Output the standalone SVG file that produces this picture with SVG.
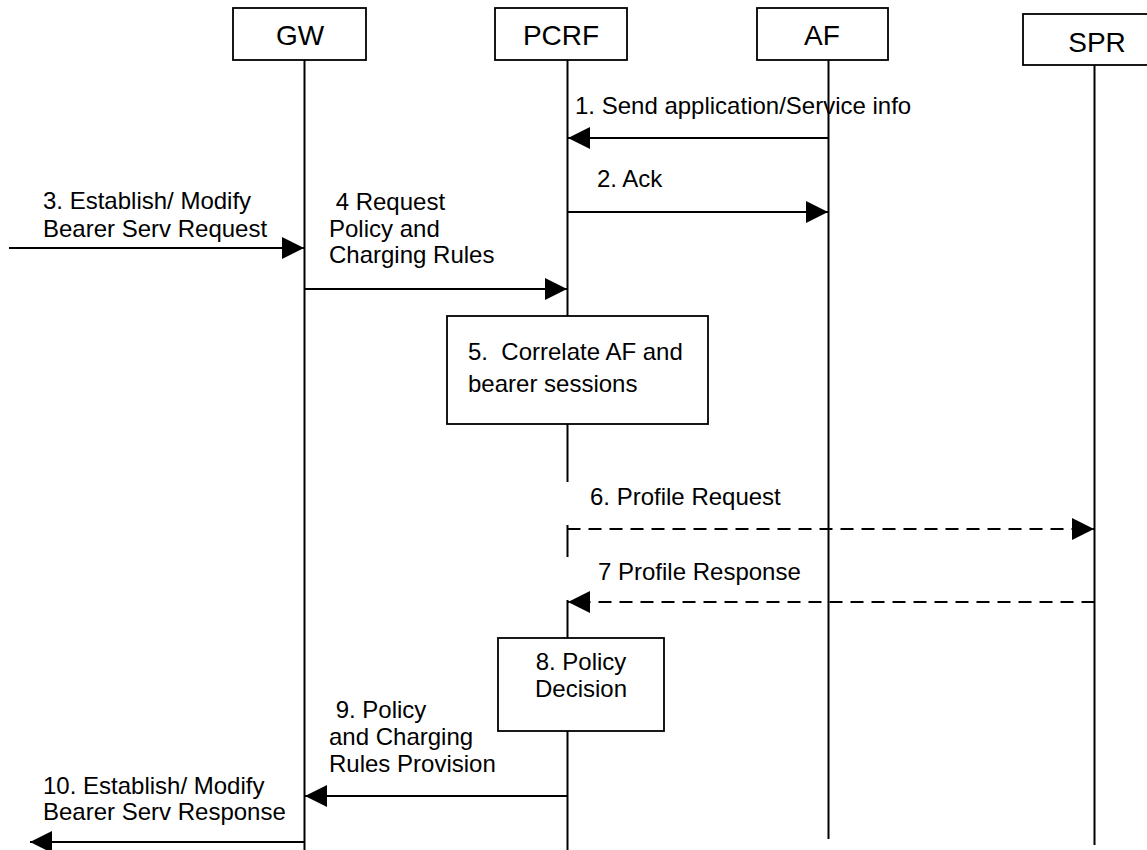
<svg xmlns="http://www.w3.org/2000/svg" width="1147" height="850" viewBox="0 0 1147 850">
  <style>
    .box { fill: #ffffff; stroke: #000000; stroke-width: 1.8; }
    .life { stroke: #000000; stroke-width: 2; fill: none; }
    .msg { stroke: #000000; stroke-width: 2.2; fill: none; marker-end: url(#head); }
    .dash { stroke-dasharray: 13 8; }
    .head { font-family: "Liberation Sans", Arial, sans-serif; font-size: 28px; fill: #000000; text-anchor: middle; }
    .lbl { font-family: "Liberation Sans", Arial, sans-serif; font-size: 24px; fill: #000000; }
    .mid { text-anchor: middle; }
  </style>
  <defs>
    <marker id="head" markerUnits="userSpaceOnUse" markerWidth="22" markerHeight="22" refX="22" refY="11" orient="auto" viewBox="0 0 22 22">
      <path d="M0,0 L22,11 L0,22 Z" fill="#000000"/>
    </marker>
  </defs>
  <rect x="0" y="0" width="1147" height="850" fill="#ffffff"/>

  <!-- lifelines -->
  <g id="lifelines">
    <line class="life" x1="304.5" y1="60" x2="304.5" y2="850"/>
    <line class="life" x1="567.5" y1="60" x2="567.5" y2="316"/>
    <line class="life" x1="567.5" y1="424" x2="567.5" y2="482"/>
    <line class="life" x1="567.5" y1="525" x2="567.5" y2="557"/>
    <line class="life" x1="567.5" y1="600" x2="567.5" y2="638"/>
    <line class="life" x1="567.5" y1="731" x2="567.5" y2="850"/>
    <line class="life" x1="828.5" y1="60" x2="828.5" y2="839"/>
    <line class="life" x1="1094.5" y1="65" x2="1094.5" y2="845"/>
  </g>

  <!-- participants -->
  <g id="gw">
    <rect class="box" x="233" y="8" width="133" height="52"/>
    <text class="head" x="300" y="45">GW</text>
  </g>
  <g id="pcrf">
    <rect class="box" x="495" y="8" width="132" height="52"/>
    <text class="head" x="561" y="45">PCRF</text>
  </g>
  <g id="af">
    <rect class="box" x="757" y="8" width="131" height="52"/>
    <text class="head" x="822" y="45">AF</text>
  </g>
  <g id="spr">
    <rect class="box" x="1023" y="14" width="144" height="51"/>
    <text class="head" x="1097" y="52">SPR</text>
  </g>

  <!-- processing steps on PCRF -->
  <g id="step5">
    <rect class="box" x="447" y="316" width="261" height="108"/>
    <text class="lbl" x="468" y="360" xml:space="preserve">5.  Correlate AF and</text>
    <text class="lbl" x="468" y="392">bearer sessions</text>
  </g>
  <g id="step8">
    <rect class="box" x="498" y="638" width="166" height="93"/>
    <text class="lbl mid" x="581" y="670">8. Policy</text>
    <text class="lbl mid" x="581" y="697">Decision</text>
  </g>

  <!-- messages -->
  <g id="connectors">
    <line class="msg" x1="828.5" y1="138" x2="568" y2="138"/>
    <line class="msg" x1="567.5" y1="212" x2="828" y2="212"/>
    <line class="msg" x1="9" y1="248" x2="304" y2="248"/>
    <line class="msg" x1="304.5" y1="289" x2="567" y2="289"/>
    <line class="msg dash" x1="567.5" y1="529" x2="1094" y2="529"/>
    <line class="msg dash" x1="1094.5" y1="602" x2="568" y2="602"/>
    <line class="msg" x1="567.5" y1="796" x2="305" y2="796"/>
    <line class="msg" x1="304" y1="842" x2="30" y2="842"/>
  </g>

  <!-- message labels -->
  <g id="labels">
    <text class="lbl" x="575" y="114">1. Send application/Service info</text>
    <text class="lbl" x="597" y="187">2. Ack</text>
    <text class="lbl" x="43" y="209">3. Establish/ Modify</text>
    <text class="lbl" x="43" y="237">Bearer Serv Request</text>
    <text class="lbl" x="329" y="210" xml:space="preserve"> 4 Request</text>
    <text class="lbl" x="329" y="237">Policy and</text>
    <text class="lbl" x="329" y="263">Charging Rules</text>
    <text class="lbl" x="590" y="505">6. Profile Request</text>
    <text class="lbl" x="598" y="580">7 Profile Response</text>
    <text class="lbl" x="329" y="718" xml:space="preserve"> 9. Policy</text>
    <text class="lbl" x="329" y="745">and Charging</text>
    <text class="lbl" x="329" y="772">Rules Provision</text>
    <text class="lbl" x="43" y="794">10. Establish/ Modify</text>
    <text class="lbl" x="43" y="820">Bearer Serv Response</text>
  </g>
</svg>
